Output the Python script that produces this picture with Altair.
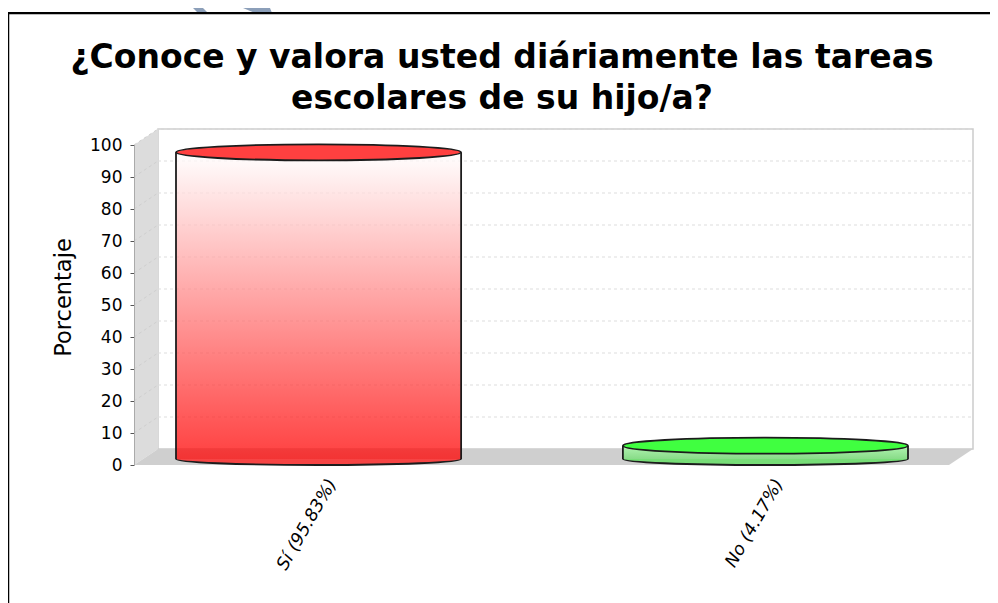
import altair as alt
import pandas as pd

title_lines = ["¿Conoce y valora usted diáriamente las tareas", "escolares de su hijo/a?"]
axis_title = "Porcentaje"
categories = ["Sí (95.83%)", "No (4.17%)"]
values = [95.83, 4.17]
ticks = [0, 10, 20, 30, 40, 50, 60, 70, 80, 90, 100]

FONT = "DejaVu Sans"
W, H = 856, 320
DEPTH_X, DEPTH_UNITS = 24, 5   # 3-D depth of the box
BAR_W = 285
MINOR_TOP, MINOR_BOTTOM = 8 / (BAR_W / 2), 6 / (BAR_W / 2)
ELLIPSE = f"M-1,0A1,{MINOR_TOP},0,1,1,1,0A1,{MINOR_TOP},0,1,1,-1,0Z"
LOWER = f"M-1,0A1,{MINOR_BOTTOM},0,0,0,1,0"
LIFT = -6
EDGE = "#1c1c1c"
top_colors = ["#ff4040", "#40ff40"]

df = pd.DataFrame({"cat": categories, "value": values, "base": [0, 0]})
tick_df = pd.DataFrame({"t": ticks, "t2": [t + DEPTH_UNITS for t in ticks]})

xs = alt.Scale(domain=categories, range=[42, 774], paddingInner=0.362, paddingOuter=0)
ys = alt.Scale(domain=[0, 100], nice=False, zero=False)

x_axis = alt.Axis(
    title=None, domain=False, ticks=False, labelAngle=-60, labelAlign="right",
    labelBaseline="middle", labelOffset=14, labelPadding=15, labelFont=FONT,
    labelFontStyle="italic", labelFontSize=17.5, labelColor="#000", labelBound=False,
)
y_axis = alt.Axis(
    values=ticks, title=axis_title, titleFont=FONT, titleFontSize=22.5,
    titleFontWeight="normal", titleColor="#000", titleX=-59, titleY=152,
    titleAngle=270, labelFont=FONT, labelFontSize=17, labelColor="#000",
    tickColor="#555", tickSize=4, domainColor="#aaaaaa", labelPadding=8,
    grid=False, zindex=1,
)


def X(bp=None):
    if bp is None:
        return alt.X("cat:N", scale=xs, axis=x_axis)
    return alt.X("cat:N", scale=xs, axis=x_axis, bandPosition=bp)


def Y(field):
    return alt.Y(f"{field}:Q", scale=ys, axis=y_axis, stack=None)


def px_area(xv, lo, hi, fill):
    d = pd.DataFrame({"px": xv, "lo": lo, "hi": hi})
    return alt.Chart(d).mark_area(fill=fill, orient="vertical", opacity=1).encode(
        x=alt.X("px:Q", scale=None, axis=None),
        y=Y("hi"),
        y2=alt.Y2("lo:Q"),
    )


def sliver(py, a, b):
    d = pd.DataFrame({"py": py, "a": a, "b": b})
    return alt.Chart(d).mark_area(fill="#8c9fb9", orient="horizontal", opacity=1).encode(
        y=alt.Y("py:Q", scale=None, axis=None),
        x=alt.X("a:Q", scale=None, axis=None),
        x2=alt.X2("b:Q"),
    )


def title_line(text, ypos):
    return alt.Chart(pd.DataFrame({"s": [text]})).mark_text(
        font=FONT, fontSize=33, fontWeight="bold", color="#000", align="center", baseline="alphabetic"
    ).encode(text="s:N", x=alt.value(368), y=alt.value(ypos))


back = (
    alt.Chart(pd.DataFrame({"a": [DEPTH_UNITS], "b": [100 + DEPTH_UNITS]}))
    .mark_rect(fill="white", stroke="#cccccc", strokeWidth=1.5)
    .encode(x=alt.value(DEPTH_X), x2=alt.value(839), y=Y("b"), y2=alt.Y2("a:Q"))
)
left_wall = px_area([0, DEPTH_X], [0, DEPTH_UNITS], [100, 100 + DEPTH_UNITS], "#dcdcdc")
floor = px_area([0, DEPTH_X, 815, 839], [0, 0, 0, DEPTH_UNITS],
                [0, DEPTH_UNITS, DEPTH_UNITS, DEPTH_UNITS], "#cfcfcf")

grid = (
    alt.Chart(tick_df[tick_df.t > 0])
    .mark_rule(color="#dddddd", strokeDash=[3, 3], strokeWidth=1)
    .encode(x=alt.value(DEPTH_X), x2=alt.value(839), y=Y("t2"))
)
diag = (
    alt.Chart(tick_df[tick_df.t > 0])
    .mark_rule(color="#cfcfcf", strokeDash=[3, 3], strokeWidth=1)
    .encode(x=alt.value(0), x2=alt.value(DEPTH_X), y=Y("t"), y2=alt.Y2("t2:Q"))
)


def cylinder(i, fill, bottom):
    d = df.iloc[[i]]
    body = alt.Chart(d).mark_bar(fill=fill, fillOpacity=0.75, yOffset=LIFT, y2Offset=LIFT).encode(
        x=X(), y=Y("value"), y2=alt.Y2("base:Q"))
    low = alt.Chart(d).mark_point(shape=LOWER, size=BAR_W ** 2, filled=True, fill=bottom,
                                  fillOpacity=0.8, stroke=EDGE, strokeWidth=1.8,
                                  strokeOpacity=1, yOffset=LIFT).encode(x=X(), y=Y("base"))
    sides = [
        alt.Chart(d).mark_rule(color=EDGE, strokeWidth=1.8, yOffset=LIFT, y2Offset=LIFT).encode(
            x=X(bp), y=Y("value"), y2=alt.Y2("base:Q"))
        for bp in (0, 1)
    ]
    top = alt.Chart(d).mark_point(shape=ELLIPSE, size=BAR_W ** 2, filled=True, fill=top_colors[i],
                                  fillOpacity=1, stroke=EDGE, strokeWidth=1.8,
                                  strokeOpacity=1, yOffset=LIFT).encode(x=X(), y=Y("value"))
    return [body, low, *sides, top]


red_fill = alt.LinearGradient(gradient="linear", x1=0, y1=0, x2=0, y2=1, stops=[
    alt.GradientStop(color="#ffffff", offset=0), alt.GradientStop(color="#ff0000", offset=1)])
green_fill = alt.LinearGradient(gradient="linear", x1=0, y1=0, x2=0, y2=1, stops=[
    alt.GradientStop(color="#a8ffa8", offset=0), alt.GradientStop(color="#70e070", offset=1)])

frame_top = alt.Chart(pd.DataFrame({"k": [0]})).mark_rule(color="#000", strokeWidth=2).encode(
    x=alt.value(-126), x2=alt.value(W), y=alt.value(-132))
frame_shade = alt.Chart(pd.DataFrame({"k": [0]})).mark_rule(color="#bbbbbb", strokeWidth=1).encode(
    x=alt.value(-125), x2=alt.value(W), y=alt.value(-130.5))
frame_left = alt.Chart(pd.DataFrame({"k": [0]})).mark_rule(color="#000", strokeWidth=1.5).encode(
    x=alt.value(-125.5), y=alt.value(-132), y2=alt.value(458))

chart = alt.layer(
    back, left_wall, floor, grid, diag,
    *cylinder(0, red_fill, "#ff2020"),
    *cylinder(1, green_fill, "#60e060"),
    sliver([-137, -132], [59, 64], [69, 74]),
    sliver([-137, -132], [109, 121], [136, 138]),
    frame_shade, frame_top, frame_left,
    title_line(title_lines[0], -77),
    title_line(title_lines[1], -36),
).properties(
    width=W, height=H,
    padding={"left": 126, "top": 137, "right": 0, "bottom": 138},
    autosize=alt.AutoSizeParams(type="none"),
).configure_view(stroke=None)

chart.save("out.html", embed_options={"renderer": "svg", "actions": False})
